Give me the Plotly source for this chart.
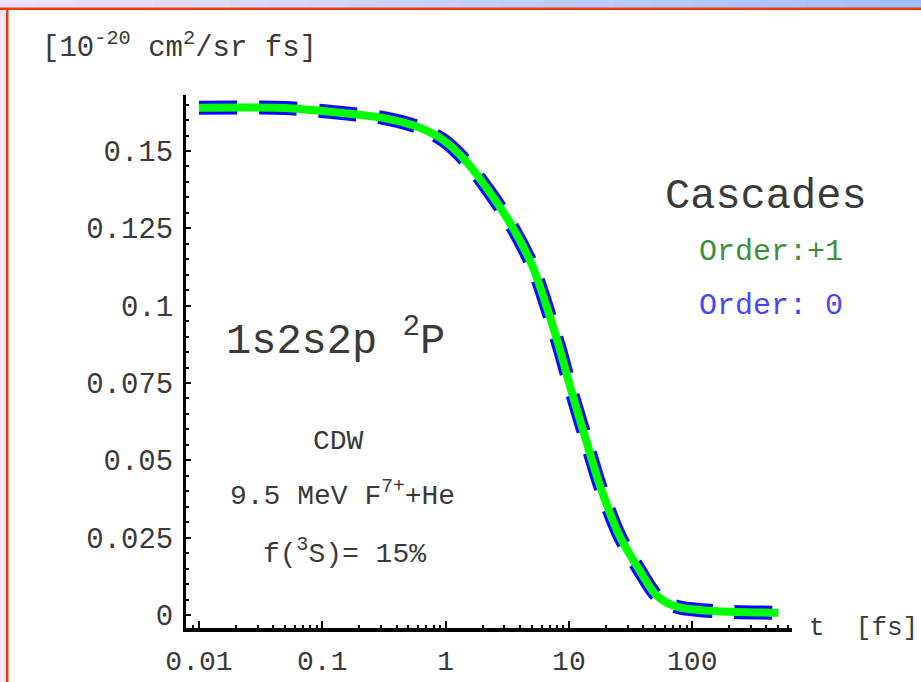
import plotly.graph_objects as go

# Time after excitation (fs) and cross section (10^-20 cm^2/sr fs)
t_fs = [0.01, 0.05, 0.12, 0.31, 0.59, 0.95, 1.5, 2.2, 3.3, 5.1, 7.0, 8.5,
        10.2, 14, 18, 26, 38, 50, 62, 80, 160, 500]
order0 = [0.1640, 0.1639, 0.1626, 0.1607, 0.1578, 0.1536, 0.1462, 0.1375,
          0.1270, 0.1125, 0.0965, 0.0855, 0.0740, 0.0556, 0.0414, 0.0252,
          0.0140, 0.0068, 0.0040, 0.0024, 0.0012, 0.0007]
order1 = [0.1640, 0.1639, 0.1626, 0.1607, 0.1578, 0.1536, 0.1462, 0.1375,
          0.1270, 0.1125, 0.0965, 0.0855, 0.0740, 0.0556, 0.0414, 0.0252,
          0.0140, 0.0068, 0.0040, 0.0024, 0.0012, 0.0007]

x_tickvals = [0.01, 0.1, 1, 10, 100]
x_ticktext = ["0.01", "0.1", "1", "10", "100"]
y_tickvals = [0, 0.025, 0.05, 0.075, 0.1, 0.125, 0.15]
y_ticktext = ["0", "0.025", "0.05", "0.075", "0.1", "0.125", "0.15"]

W, H = 921, 682
L, R, T, B = 186, 792, 95, 628   # plot area in pixels
MONO = "Liberation Mono"
TXT = "#3a3a3a"


def px(x):
    return (x - L) / (R - L)


def py(y):
    return (B - y) / (B - T)


fig = go.Figure()
fig.add_trace(go.Scatter(
    x=t_fs, y=order0, mode="lines", line_shape="spline", name="Order: 0",
    line=dict(color="#0a0aff", width=14, dash="38px,22px", smoothing=0.8),
))
fig.add_trace(go.Scatter(
    x=t_fs, y=order1, mode="lines", line_shape="spline", name="Order:+1",
    line=dict(color="#00ff00", width=8, smoothing=0.8),
))

# Slide frame: gradient band on top, lavender strip on the left, red rules
shapes = []
n = 24
c0, c1 = (236, 226, 250), (160, 192, 255)
for i in range(n):
    f = i / (n - 1)
    col = "rgb(%d,%d,%d)" % tuple(round(a + (b - a) * f) for a, b in zip(c0, c1))
    shapes.append(dict(type="rect", xref="paper", yref="paper",
                       x0=px(W * i / n), x1=px(W * (i + 1) / n + 1),
                       y0=py(8), y1=py(0), line_width=0, fillcolor=col,
                       layer="below"))
shapes.append(dict(type="rect", xref="paper", yref="paper",
                   x0=px(0), x1=px(6), y0=py(H), y1=py(8), line_width=0,
                   fillcolor="#f3e6f6", layer="below"))
shapes.append(dict(type="rect", xref="paper", yref="paper",
                   x0=px(0), x1=px(W), y0=py(10), y1=py(7.5), line_width=0,
                   fillcolor="#f03a14", layer="below"))
shapes.append(dict(type="rect", xref="paper", yref="paper",
                   x0=px(6), x1=px(8.5), y0=py(H), y1=py(8), line_width=0,
                   fillcolor="#f03a14", layer="below"))


def ann(text, x, y, size, color=TXT, xanchor="center"):
    return dict(text=text, x=px(x), y=py(y), xref="paper", yref="paper",
                xanchor=xanchor, yanchor="middle", showarrow=False,
                font=dict(family=MONO, size=size, color=color))


annotations = [
    ann("[10<sup>-20</sup> cm<sup>2</sup>/sr fs]", 40, 46, 29, xanchor="left"),
    ann("t  [fs]", 920, 628, 26, xanchor="right"),
    ann("Cascades", 766, 197, 42),
    ann("Order:+1", 771, 252, 30, color="#3d8f3d"),
    ann("Order: 0", 771, 306, 30, color="#4646ff"),
    ann("1s2s2p <sup>2</sup>P", 335, 338, 42),
    ann("CDW", 338, 442, 28),
    ann("9.5 MeV F<sup>7+</sup>+He", 342, 494, 28),
    ann("f(<sup>3</sup>S)= 15%", 344, 552, 28),
]

fig.update_layout(
    width=W, height=H,
    margin=dict(l=L, r=W - R, t=T, b=H - B, pad=0, autoexpand=False),
    paper_bgcolor="white", plot_bgcolor="white",
    showlegend=False,
    shapes=shapes,
    annotations=annotations,
    font=dict(family=MONO, size=29, color=TXT),
)
fig.update_xaxes(
    type="log", range=[-2.105, 2.809], automargin=False,
    showgrid=False, zeroline=False,
    showline=True, linecolor="black", linewidth=4,
    tickmode="array", tickvals=x_tickvals, ticktext=x_ticktext,
    ticks="inside", ticklen=7, tickwidth=2, tickcolor="black",
    minor=dict(ticks="inside", ticklen=3, tickwidth=2, tickcolor="black",
               dtick="D1", showgrid=False),
    tickfont=dict(family=MONO, size=28, color=TXT),
    ticklabelstandoff=4,
)
fig.update_yaxes(
    range=[-0.0042, 0.1681], automargin=False,
    showgrid=False, zeroline=False,
    showline=True, linecolor="black", linewidth=3,
    tickmode="array", tickvals=y_tickvals, ticktext=y_ticktext,
    ticks="inside", ticklen=5, tickwidth=2, tickcolor="black",
    minor=dict(ticks="inside", ticklen=3, tickwidth=2, tickcolor="black",
               dtick=0.005, tick0=0, showgrid=False),
    tickfont=dict(family=MONO, size=29, color=TXT),
    ticklabelstandoff=4,
)

fig.write_html("out.html")
